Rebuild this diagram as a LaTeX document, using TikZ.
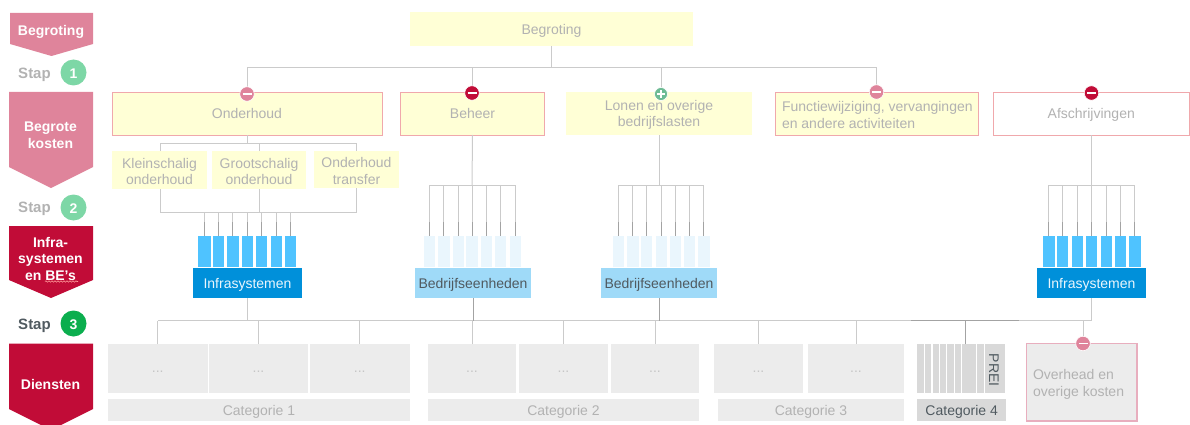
\documentclass[tikz,border=0pt]{standalone}
\usepackage{fontspec}
\setmainfont{Liberation Sans}
\usetikzlibrary{decorations.pathmorphing}
\definecolor{pinkc}{HTML}{DF849B}
\definecolor{crimc}{HTML}{C10C37}
\definecolor{greenl}{HTML}{7DD7A6}
\definecolor{greend}{HTML}{0BAE4E}
\definecolor{greeni}{HTML}{6DBB94}
\definecolor{yel}{HTML}{FFFFD6}
\definecolor{bord}{HTML}{F0A8AC}
\definecolor{bordb}{HTML}{E8AEBE}
\definecolor{blued}{HTML}{0090DA}
\definecolor{bluem}{HTML}{4FC3FF}
\definecolor{bluel}{HTML}{EAF6FD}
\definecolor{bluep}{HTML}{9FDAF8}
\definecolor{tile}{HTML}{ECECEC}
\definecolor{tiled}{HTML}{D9D9D9}
\definecolor{txt}{HTML}{B2B2B2}
\definecolor{txtd}{HTML}{505A60}
\definecolor{ln}{HTML}{CBCBCB}
\definecolor{lnd}{HTML}{A3A3A3}
\tikzset{
  every node/.style={inner sep=0pt,outer sep=0pt,font=\fontsize{14}{16.5}\selectfont,text=txt,align=center},
  yellowbox/.style={fill=yel},
  redbox/.style={fill=yel,draw=bord,line width=0.9pt},
  whitebox/.style={fill=white,draw=bord,line width=0.9pt},
  subbox/.style={fill=yel,font=\fontsize{14}{16.5}\selectfont},
  barmid/.style={fill=bluem},
  barlight/.style={fill=bluel},
  infrabox/.style={fill=blued,text=bluel},
  bedrbox/.style={fill=bluep,text=txtd},
  tilebox/.style={fill=tile,text=txt!75,font=\fontsize{14}{14}\selectfont},
  catbox/.style={fill=tile},
  catdark/.style={fill=tiled,text=txtd},
  stripe/.style={fill=tiled},
  ovhbox/.style={fill=tile,draw=bordb,line width=1.2pt},
  conn/.style={draw=ln,line width=1pt},
  conndark/.style={draw=lnd,line width=1pt},
  bandlabel/.style={text=white,font=\fontsize{14}{16.5}\selectfont\bfseries},
  staplabel/.style={font=\fontsize{15}{17}\selectfont\bfseries},
  stepdot/.style={circle,minimum size=26pt},
  dotnum/.style={text=white,font=\fontsize{14}{16}\selectfont\bfseries},
  iconmark/.style={circle,draw=white,line width=0.6pt,minimum size=14.5pt},
  iconbar/.style={draw=white,line width=1.6pt}
}
\newcommand{\bx}[7]{\node[#6,minimum width={(#4-#2)*1pt},minimum height={(#5-#3)*1pt}] (#1) at ({(#2+#4)/2},{(#3+#5)/2}) {};
  \node[#6,fill=none,draw=none] (#1t) at ([yshift=-1.5pt]#1.center) {#7};}
\newcommand{\tiledots}{\rule{0pt}{5pt}...}
\newcommand{\lvl}{\vphantom{Ag}}
\newcommand{\minusmark}[4]{\node[iconmark,fill=#4] (#1) at (#2,#3) {};
  \draw[iconbar] ([xshift=-4.5pt]#1.center) -- ([xshift=4.5pt]#1.center);}
\newcommand{\plusmark}[4]{\node[iconmark,fill=#4,minimum size=13pt] (#1) at (#2,#3) {};
  \draw[iconbar] ([xshift=-4pt]#1.center) -- ([xshift=4pt]#1.center);
  \draw[iconbar] ([yshift=-4pt]#1.center) -- ([yshift=4pt]#1.center);}
% fan: #1 prefix, #2 y of the comb
\newcommand{\fan}[2]{
  \coordinate (#1top) at (0,#2);
  \coordinate (#1mid) at (0,222);
  \draw[conn] (#11.north |- #1top) -- (#17.north |- #1top);
  \foreach \k in {1,...,7}{
    \draw[conn] (#1\k.north |- #1top) -- (#1\k.north |- #1mid);
    \draw[conndark] (#1\k.north |- #1mid) -- (#1\k.north);
  }}
\begin{document}
\begin{tikzpicture}[x=1pt,y=-1pt]
\useasboundingbox (0,0) rectangle (1190,425);
% left bands
\fill[pinkc] (10,13) -- (93,13) -- (93,44) -- (51.5,56) -- (10,44) -- cycle;
\fill[pinkc] (9,92) -- (93,92) -- (93,167) -- (51,188) -- (9,167) -- cycle;
\fill[crimc] (9,226) -- (93,226) -- (93,280) -- (51,298) -- (9,280) -- cycle;
\fill[crimc] (9,343.5) -- (93,343.5) -- (93,409) -- (51,430) -- (9,409) -- cycle;
\draw[white!60!red,line width=0.6pt,decorate,decoration={snake,amplitude=0.7pt,segment length=3pt}] (45,281.5) -- (78,281.5);
\node[bandlabel] (lab1) at (51,31.5) {Begroting};
\node[bandlabel] (lab2) at (50.5,135.5) {Begrote\\kosten};
\node[bandlabel] (lab3) at (50.5,258.5) {Infra-\\systemen\\en BE’s};
\node[bandlabel] (lab4) at (50.5,384) {Diensten};
\node[staplabel] (st1) at (34.5,75) {Stap};
\node[staplabel] (st2) at (34.5,209) {Stap};
\node[staplabel,text=txtd] (st3) at (34.5,326) {Stap};
\node[stepdot,fill=greenl] (d1) at (73.5,72.5) {};
\node[stepdot,fill=greenl] (d2) at (73.5,207.5) {};
\node[stepdot,fill=greend] (d3) at (73.5,323.5) {};
\node[dotnum] (d1t) at ([yshift=-1pt]d1.center) {1};
\node[dotnum] (d2t) at ([yshift=-1pt]d2.center) {2};
\node[dotnum] (d3t) at ([yshift=-1pt]d3.center) {3};
% top
\bx{top}{410}{12}{693}{46}{yellowbox}{\lvl Begroting}
\bx{ond}{112}{92}{382}{135}{redbox}{\lvl Onderhoud}
\bx{beh}{400.5}{92}{544.5}{135}{redbox}{\lvl Beheer}
\bx{lon}{566}{92}{752}{135}{yellowbox}{Lonen en overige\\bedrijfslasten}
\bx{fun}{775}{92}{978}{135}{redbox}{}
\node[anchor=west,align=left] (funt) at (782,115) {Functiewijziging, vervangingen\\en andere activiteiten};
\bx{afs}{993}{92}{1189.5}{135}{whitebox}{\lvl Afschrijvingen}
% sub boxes
\bx{s1}{112}{151}{207}{189}{subbox}{Kleinschalig\\onderhoud}
\bx{s2}{212}{151}{306}{189}{subbox}{Grootschalig\\onderhoud}
\bx{s3}{314}{151}{399}{188}{subbox}{Onderhoud\\transfer}
% bars
\foreach \n/\a/\b in {1/198/210.5,2/213/224,3/227/238.5,4/242/253,5/256/267,6/270.5/282,7/284.5/295.5}{\bx{p\n}{\a}{236}{\b}{267}{barmid}{}}
\foreach \n/\a/\b in {1/424/435,2/438/449.5,3/452.5/463.5,4/466/478,5/481/492,6/495/506,7/510/521}{\bx{q\n}{\a}{236}{\b}{267}{barlight}{}}
\foreach \n/\a/\b in {1/612.5/624,2/627/638.5,3/641/652,4/656/667,5/670/681,6/684/695,7/698/709.5}{\bx{r\n}{\a}{236}{\b}{267}{barlight}{}}
\foreach \n/\a/\b in {1/1043/1054.5,2/1057/1068,3/1072/1083,4/1086/1097,5/1100.5/1112,6/1114.5/1126,7/1128.5/1140.5}{\bx{t\n}{\a}{236}{\b}{267}{barmid}{}}
\bx{ib1}{193}{268}{302}{298}{infrabox}{\lvl Infrasystemen}
\bx{be1}{415}{268}{531}{298}{bedrbox}{\lvl Bedrijfseenheden}
\bx{be2}{601}{268}{717}{298}{bedrbox}{\lvl Bedrijfseenheden}
\bx{ib2}{1037}{268}{1146}{298}{infrabox}{\lvl Infrasystemen}
% tiles
\bx{a1}{108}{344}{207.5}{393}{tilebox}{\tiledots}
\bx{a2}{209}{344}{308}{393}{tilebox}{\tiledots}
\bx{a3}{309.5}{344}{410}{393}{tilebox}{\tiledots}
\bx{b1}{428}{344}{516}{393}{tilebox}{\tiledots}
\bx{b2}{519}{344}{608}{393}{tilebox}{\tiledots}
\bx{b3}{611}{344}{699}{393}{tilebox}{\tiledots}
\bx{c1}{714}{344}{803}{393}{tilebox}{\tiledots}
\bx{c2}{808}{344}{904}{393}{tilebox}{\tiledots}
\coordinate (d0) at (965,344);
\foreach \n/\a/\b in {1/917.3/924,2/925/931.3,3/932.7/939,4/940/946.3,5/947.3/953.7,6/954.7/961.3,7/962.3/968.7,8/969.3/976,9/977/984}{\bx{e\n}{\a}{344}{\b}{393}{stripe}{}}
\bx{prei}{985}{344}{1005.3}{393}{stripe}{}
\node[rotate=-90,text=txtd,font=\fontsize{14}{15}\selectfont] (preit) at (994,370) {PREI};
\bx{cat1}{108}{399}{410}{421}{catbox}{\lvl Categorie 1}
\bx{cat2}{428}{399}{699}{421}{catbox}{\lvl Categorie 2}
\bx{cat3}{718}{399}{904}{421}{catbox}{\lvl Categorie 3}
\bx{cat4}{917.3}{399}{1006}{421}{catdark}{\lvl Categorie 4}
\bx{ovh}{1026.5}{343.5}{1137}{421}{ovhbox}{}
\node[anchor=west,align=left] (ovht) at (1033,384.5) {Overhead en\\overige kosten};
% connectors: top tree
\coordinate (tree) at (0,68);
\draw[conn] (top.south) -- (top.south |- tree);
\coordinate (ondx) at (247,92);
\coordinate (behx) at (472,92);
\coordinate (lonx) at (661,92);
\coordinate (funx) at (876.5,92);
\draw[conn] (ondx) -- (ondx |- tree) -- (funx |- tree) -- (funx);
\draw[conn] (behx |- tree) -- (behx);
\draw[conn] (lonx |- tree) -- (lonx);
% onderhoud sub tree
\coordinate (sa) at (0,143);
\draw[conn] (ond.south) -- (ond.south |- sa);
\draw[conn] (160,151) -- (160,143) -- (356,143) -- (356,151);
\draw[conn] (259,143) -- (259,151);
\draw[conn] (160,189) -- (160,212) -- (356,212) -- (356,188);
\draw[conn] (259,189) -- (259,212);
% fans
\fan{p}{212}
\fan{q}{185}
\fan{r}{185}
\fan{t}{185}
\draw[conn] (beh.south) -- (q4.north |- qtop);
\draw[conn] (lon.south) -- (lon.south |- rtop);
\draw[conn] (afs.south) -- (afs.south |- ttop);
% lower bus
\coordinate (bus) at (0,320.5);
\draw[conn] (a1.north |- bus) -- (ib2.south |- bus) -- (ib2.south);
\draw[conndark] (911,320.5) -- (1019,320.5);
\draw[conn] (ib1.south) -- (ib1.south |- bus);
\draw[conndark] (be1.south) -- (be1.south |- bus);
\draw[conndark] (be2.south) -- (be2.south |- bus);
\foreach \m in {a1,a2,a3,b1,b2,b3,c1,c2}{\draw[conn] (\m.north) -- (\m.north |- bus);}
\draw[conndark] (d0) -- (d0 |- bus);
% marks
\minusmark{m1}{247}{94}{pinkc}
\minusmark{m2}{472}{93}{crimc}
\plusmark{m3}{661}{94}{greeni}
\minusmark{m4}{876.5}{92}{pinkc}
\minusmark{m5}{1091.5}{93}{crimc}
\minusmark{m6}{1083}{343.5}{pinkc}
\draw[conn] (m6.north) -- (m6.north |- bus);
\end{tikzpicture}
\end{document}
